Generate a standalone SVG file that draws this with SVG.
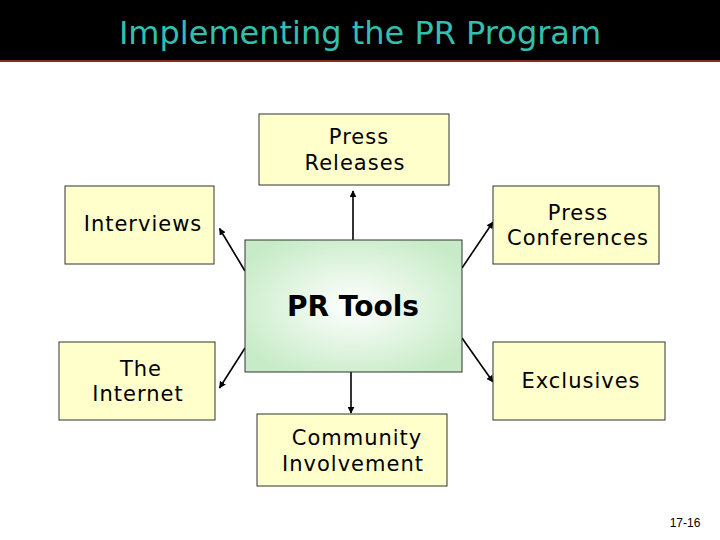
<svg xmlns="http://www.w3.org/2000/svg" width="720" height="540" viewBox="0 0 720 540">
<defs>
<radialGradient id="g" cx="50%" cy="50%" r="60%">
<stop offset="0" stop-color="#ffffff"/>
<stop offset="1" stop-color="#c6ebc6"/>
</radialGradient>
<marker id="ah" viewBox="0 0 10 10" refX="9" refY="5" markerWidth="7" markerHeight="7" orient="auto" markerUnits="userSpaceOnUse">
<path d="M0,0 L10,5 L0,10 z" fill="#000"/>
</marker>
<style>
.box{fill:#ffffcc;stroke:#333;stroke-width:1}
.t{font-family:"DejaVu Sans",Verdana,sans-serif;font-size:21px;letter-spacing:1px;fill:#000;text-anchor:middle}
.c{stroke:#000;stroke-width:1.6;fill:none;marker-end:url(#ah)}
</style>
</defs>
<rect width="720" height="540" fill="#fff"/>
<rect x="0" y="0" width="720" height="60" fill="#000"/>
<rect x="0" y="60" width="720" height="2" fill="#8b2a22"/>
<text x="360" y="44" font-family="'DejaVu Sans',Verdana,sans-serif" font-size="32" fill="#33bfb0" text-anchor="middle">Implementing the PR Program</text>
<g id="connectors">
<line class="c" x1="353" y1="240" x2="353" y2="191"/>
<line class="c" x1="245" y1="271" x2="219.5" y2="228.5"/>
<line class="c" x1="462" y1="268" x2="493" y2="222"/>
<line class="c" x1="351" y1="372" x2="351" y2="413"/>
<line class="c" x1="245" y1="348" x2="219.5" y2="388"/>
<line class="c" x1="462" y1="338" x2="493" y2="382"/>
</g>
<g id="center">
<rect x="245" y="240" width="217" height="132" fill="url(#g)" stroke="#333" stroke-width="1"/>
<text x="353" y="316" font-family="'DejaVu Sans',Verdana,sans-serif" font-size="28" font-weight="bold" text-anchor="middle">PR Tools</text>
</g>
<g id="press-releases">
<rect class="box" x="259" y="114" width="190" height="71"/>
<text class="t" x="359" y="144">Press</text>
<text class="t" x="355" y="170">Releases</text>
</g>
<g id="interviews">
<rect class="box" x="65" y="186" width="149" height="78"/>
<text class="t" x="143" y="231">Interviews</text>
</g>
<g id="press-conferences">
<rect class="box" x="493" y="186" width="166" height="78"/>
<text class="t" x="578" y="220">Press</text>
<text class="t" x="578" y="245">Conferences</text>
</g>
<g id="the-internet">
<rect class="box" x="59" y="342" width="156" height="78"/>
<text class="t" x="141" y="376">The</text>
<text class="t" x="138" y="401">Internet</text>
</g>
<g id="exclusives">
<rect class="box" x="493" y="342" width="172" height="78"/>
<text class="t" x="581" y="388">Exclusives</text>
</g>
<g id="community">
<rect class="box" x="257" y="414" width="190" height="72"/>
<text class="t" x="357" y="445">Community</text>
<text class="t" x="353" y="471">Involvement</text>
</g>
<text x="685" y="527" font-family="'Liberation Sans',Arial,sans-serif" font-size="12" text-anchor="middle">17-16</text>
</svg>
